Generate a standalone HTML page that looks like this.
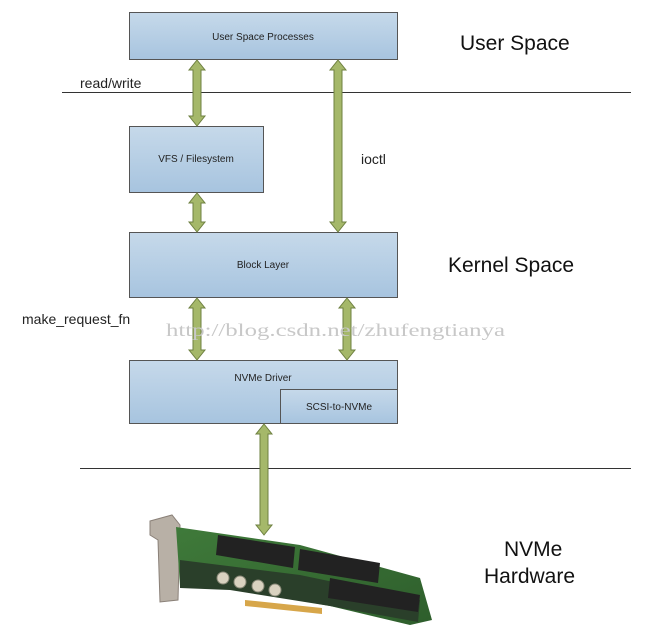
<!DOCTYPE html>
<html><head><meta charset="utf-8"><style>
html,body{margin:0;padding:0;background:#fff;}
svg{display:block;}
text{font-family:"Liberation Sans",sans-serif;}
</style></head><body>
<svg width="651" height="639" viewBox="0 0 651 639" xmlns="http://www.w3.org/2000/svg">
<defs>
<linearGradient id="g" x1="0" y1="0" x2="0" y2="1">
<stop offset="0" stop-color="#c6d9ea"/><stop offset="1" stop-color="#a7c4df"/>
</linearGradient>
<linearGradient id="pcb" x1="0" y1="0" x2="1" y2="1">
<stop offset="0" stop-color="#3f7a3a"/><stop offset="1" stop-color="#2e5e2c"/>
</linearGradient>
</defs>
<line x1="62" y1="92.5" x2="631" y2="92.5" stroke="#333" stroke-width="1"/>
<line x1="80" y1="468.5" x2="631" y2="468.5" stroke="#333" stroke-width="1"/>

<rect x="129.5" y="12.5" width="268" height="47" fill="url(#g)" stroke="#555"/>
<text x="263" y="40" font-size="10" text-anchor="middle" fill="#222">User Space Processes</text>
<rect x="129.5" y="126.5" width="134" height="66" fill="url(#g)" stroke="#555"/>
<text x="196" y="162" font-size="10" text-anchor="middle" fill="#222">VFS / Filesystem</text>
<rect x="129.5" y="232.5" width="268" height="65" fill="url(#g)" stroke="#555"/>
<text x="263" y="268" font-size="10" text-anchor="middle" fill="#222">Block Layer</text>
<rect x="129.5" y="360.5" width="268" height="63" fill="url(#g)" stroke="#555"/>
<text x="263" y="381" font-size="10" text-anchor="middle" fill="#222">NVMe Driver</text>
<rect x="280.5" y="389.5" width="117" height="34" fill="url(#g)" stroke="#555"/>
<text x="339" y="410" font-size="10" text-anchor="middle" fill="#222">SCSI-to-NVMe</text>

<g fill="#a5b86a" stroke="#6e8040" stroke-width="1">
<path d="M197 60 L205 70 L201 70 L201 116 L205 116 L197 126 L189 116 L193 116 L193 70 L189 70 Z"/>
<path d="M197 193 L205 203 L201 203 L201 222 L205 222 L197 232 L189 222 L193 222 L193 203 L189 203 Z"/>
<path d="M197 298 L205 308 L201 308 L201 350 L205 350 L197 360 L189 350 L193 350 L193 308 L189 308 Z"/>
<path d="M338 60 L346 70 L342 70 L342 222 L346 222 L338 232 L330 222 L334 222 L334 70 L330 70 Z"/>
<path d="M347 298 L355 308 L351 308 L351 350 L355 350 L347 360 L339 350 L343 350 L343 308 L339 308 Z"/>
<path d="M264 424 L272 434 L268 434 L268 525 L272 525 L264 535 L256 525 L260 525 L260 434 L256 434 Z"/>
</g>

<text x="80" y="88" font-size="14" fill="#222">read/write</text>
<text x="361" y="164" font-size="14" fill="#222">ioctl</text>
<text x="22" y="324" font-size="14" fill="#222">make_request_fn</text>
<text x="460" y="50" font-size="21" fill="#111">User Space</text>
<text x="448" y="272" font-size="21" fill="#111">Kernel Space</text>
<text x="504" y="556" font-size="21" fill="#111">NVMe</text>
<text x="484" y="583" font-size="21" fill="#111">Hardware</text>
<text x="166" y="336" font-size="18" fill="#c8c8c8" style="font-family:'Liberation Serif',serif" textLength="339" lengthAdjust="spacingAndGlyphs">http://blog.csdn.net/zhufengtianya</text>

<polygon points="150,521 172,515 180,525 178,600 160,602 158,540 150,535" fill="#b8b0a6" stroke="#8a8078"/>
<polygon points="176,527 300,545 420,578 432,620 410,625 330,606 230,588 180,586" fill="url(#pcb)"/>
<polygon points="180,560 300,575 420,600 418,622 330,606 230,590 180,588" fill="#2a3f2a"/>
<g fill="#222">
<polygon points="218,535 295,547 293,568 216,555"/>
<polygon points="300,549 380,563 378,583 298,570"/>
<polygon points="330,578 420,595 418,612 328,598"/>
</g>
<g fill="#d9d2c0" stroke="#887">
<circle cx="223" cy="578" r="6"/><circle cx="240" cy="582" r="6"/>
<circle cx="258" cy="586" r="6"/><circle cx="275" cy="590" r="6"/>
</g>
<polygon points="245,600 322,608 322,614 245,606" fill="#d7a64a"/>
</svg>
</body></html>
